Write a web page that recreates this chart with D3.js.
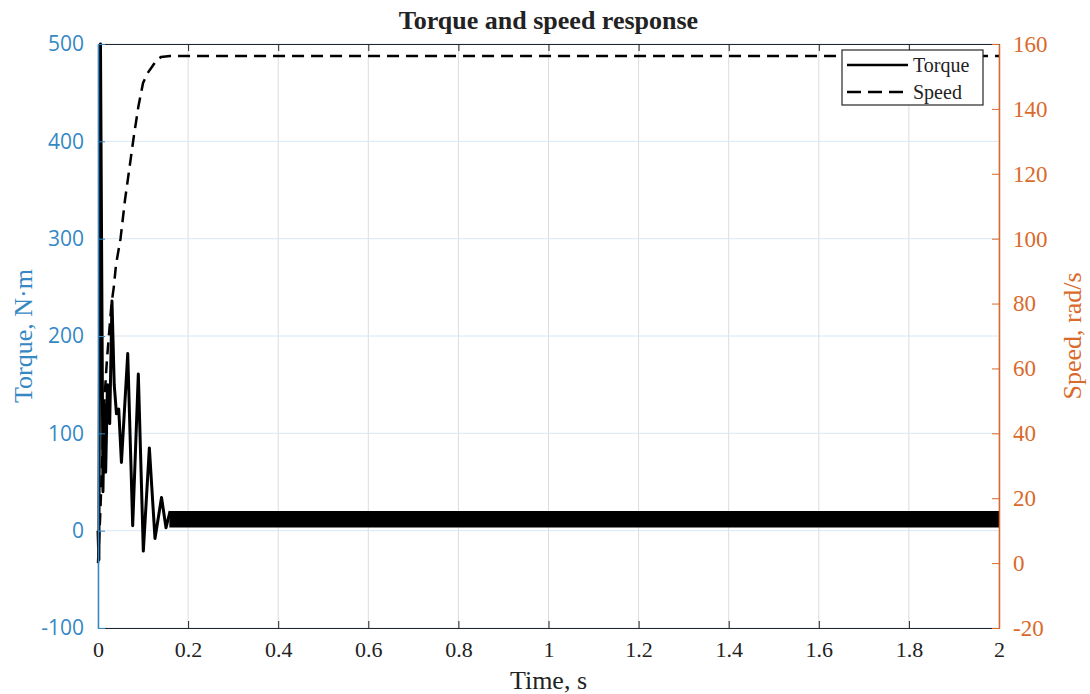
<!DOCTYPE html>
<html>
<head>
<meta charset="utf-8">
<script src="https://cdn.jsdelivr.net/npm/d3@7"></script>
<style>
  body { margin: 0; background: #fff; }
</style>
</head>
<body>
<div id="vis"></div>
<script>
// data
const xTicks = [0, 0.2, 0.4, 0.6, 0.8, 1, 1.2, 1.4, 1.6, 1.8, 2];
const torqueTicks = [-100, 0, 100, 200, 300, 400, 500];
const speedTicks = [-20, 0, 20, 40, 60, 80, 100, 120, 140, 160];

// torque transient (N·m)
const torqueTime = [0, 0.002, 0.0055, 0.011, 0.014, 0.017, 0.021, 0.026, 0.031, 0.036, 0.041,
  0.046, 0.052, 0.066, 0.077, 0.0895, 0.1006, 0.114, 0.1265, 0.141, 0.151, 0.16];
const torqueVals = [0, -30, 500, 40, 130, 60, 150, 110, 236, 150, 120,
  125, 70, 182, 5, 161, -21, 85, -8, 34, 3, 20];

// steady-state torque ripple band
const rippleTime = [0.16, 2];
const rippleLow = 4;
const rippleHigh = 19.5;

// speed (rad/s)
const speedTime = [0, 0.005, 0.01, 0.015, 0.02, 0.03, 0.035, 0.04, 0.05, 0.06, 0.07, 0.08,
  0.09, 0.1, 0.11, 0.12, 0.13, 0.14, 0.16, 2];
const speedVals = [0, 15, 35, 52, 63, 80, 85, 92, 100, 112, 122, 132,
  141, 148, 151, 153, 155, 156, 156.3, 156.3];

const blue = "#3588c4";
const orange = "#d96a2b";
const axisGray = "#262626";
const serif = "Liberation Serif, Times New Roman, serif";

const svg = d3.select("#vis")
  .append("svg")
  .attr("width", 1090)
  .attr("height", 694);

const margin = { top: 44, right: 91, bottom: 66, left: 98 };
const width = 1090 - margin.left - margin.right;
const height = 694 - margin.top - margin.bottom;

const chart = svg.append("g")
  .attr("transform", `translate(${margin.left}, ${margin.top})`);

const x = d3.scaleLinear().domain([0, 2]).range([0, width]);
const yT = d3.scaleLinear().domain([-100, 500]).range([height, 0]);
const yS = d3.scaleLinear().domain([-20, 160]).range([height, 0]);

// grid
chart.append("g")
  .selectAll("line")
  .data(xTicks)
  .enter()
  .append("line")
  .attr("x1", d => x(d)).attr("x2", d => x(d))
  .attr("y1", 0).attr("y2", height)
  .attr("stroke", "#dcdcdc")
  .attr("stroke-width", 1);

chart.append("g")
  .selectAll("line")
  .data(torqueTicks)
  .enter()
  .append("line")
  .attr("x1", 0).attr("x2", width)
  .attr("y1", d => yT(d)).attr("y2", d => yT(d))
  .attr("stroke", "#d8e7f3")
  .attr("stroke-width", 1);

// torque ripple band
const band = d3.area()
  .x(d => x(d))
  .y0(yT(rippleLow))
  .y1(yT(rippleHigh));

chart.append("path")
  .datum(rippleTime)
  .attr("d", band)
  .attr("fill", "#000")
  .attr("stroke", "#000")
  .attr("stroke-width", 1.5);

// torque transient line
const torqueData = torqueTime.map((t, i) => ({ t: t, v: torqueVals[i] }));
chart.append("path")
  .datum(torqueData)
  .attr("d", d3.line().x(d => x(d.t)).y(d => yT(d.v)))
  .attr("fill", "none")
  .attr("stroke", "#000")
  .attr("stroke-width", 3)
  .attr("stroke-linejoin", "round");

// speed line
const speedData = speedTime.map((t, i) => ({ t: t, v: speedVals[i] }));
chart.append("path")
  .datum(speedData)
  .attr("d", d3.line().x(d => x(d.t)).y(d => yS(d.v)))
  .attr("fill", "none")
  .attr("stroke", "#000")
  .attr("stroke-width", 2.5)
  .attr("stroke-dasharray", "12,7");

// axes
const plain = d => String(d);

const bottomAxis = chart.append("g")
  .attr("transform", `translate(0, ${height})`)
  .call(d3.axisBottom(x).tickValues(xTicks).tickFormat(plain).tickSizeInner(-7).tickSizeOuter(0).tickPadding(13));
bottomAxis.select(".domain").attr("stroke", axisGray).attr("stroke-width", 1.2);
bottomAxis.selectAll(".tick line").attr("stroke", axisGray);
bottomAxis.selectAll("text")
  .attr("fill", "#222")
  .attr("font-family", serif)
  .attr("font-size", "22px");

const topAxis = chart.append("g")
  .call(d3.axisTop(x).tickValues(xTicks).tickFormat("").tickSizeInner(-7).tickSizeOuter(0));
topAxis.select(".domain").attr("stroke", axisGray).attr("stroke-width", 1.2);
topAxis.selectAll(".tick line").attr("stroke", axisGray);

const leftAxis = chart.append("g")
  .call(d3.axisLeft(yT).tickValues(torqueTicks).tickFormat(plain).tickSizeInner(-7).tickSizeOuter(0).tickPadding(14));
leftAxis.select(".domain").attr("stroke", blue).attr("stroke-width", 1.5);
leftAxis.selectAll(".tick line").attr("stroke", blue);
leftAxis.selectAll("text")
  .attr("fill", blue)
  .attr("font-family", "Open Sans, sans-serif")
  .attr("font-size", "21px");

const rightAxis = chart.append("g")
  .attr("transform", `translate(${width}, 0)`)
  .call(d3.axisRight(yS).tickValues(speedTicks).tickFormat(plain).tickSizeInner(-7).tickSizeOuter(0).tickPadding(14));
rightAxis.select(".domain").attr("stroke", orange).attr("stroke-width", 1.5);
rightAxis.selectAll(".tick line").attr("stroke", orange);
rightAxis.selectAll("text")
  .attr("fill", orange)
  .attr("font-family", serif)
  .attr("font-size", "23px");

// labels
svg.append("text")
  .attr("x", margin.left + width / 2)
  .attr("y", 29)
  .attr("text-anchor", "middle")
  .attr("font-family", serif)
  .attr("font-weight", "bold")
  .attr("font-size", "26px")
  .attr("fill", "#222")
  .text("Torque and speed response");

svg.append("text")
  .attr("x", margin.left + width / 2)
  .attr("y", 689)
  .attr("text-anchor", "middle")
  .attr("font-family", serif)
  .attr("font-size", "26px")
  .attr("fill", "#222")
  .text("Time, s");

svg.append("text")
  .attr("transform", `translate(32, ${margin.top + height / 2}) rotate(-90)`)
  .attr("text-anchor", "middle")
  .attr("font-family", serif)
  .attr("font-size", "26px")
  .attr("fill", blue)
  .text("Torque, N·m");

svg.append("text")
  .attr("transform", `translate(1081, ${margin.top + height / 2}) rotate(-90)`)
  .attr("text-anchor", "middle")
  .attr("font-family", serif)
  .attr("font-size", "26px")
  .attr("fill", orange)
  .text("Speed, rad/s");

// legend
const legend = svg.append("g")
  .attr("transform", "translate(842, 50)");

legend.append("rect")
  .attr("width", 141)
  .attr("height", 55)
  .attr("fill", "#fff")
  .attr("stroke", axisGray)
  .attr("stroke-width", 1.2);

const legendItems = [
  { name: "Torque", dash: null, y: 15 },
  { name: "Speed", dash: "14,7", y: 42 }
];

legendItems.forEach(item => {
  legend.append("line")
    .attr("x1", 5).attr("x2", 66)
    .attr("y1", item.y).attr("y2", item.y)
    .attr("stroke", "#000")
    .attr("stroke-width", 2.5)
    .attr("stroke-dasharray", item.dash);

  legend.append("text")
    .attr("x", 71)
    .attr("y", item.y + 7)
    .attr("font-family", serif)
    .attr("font-size", "20px")
    .attr("fill", "#222")
    .text(item.name);
});
</script>
</body>
</html>
